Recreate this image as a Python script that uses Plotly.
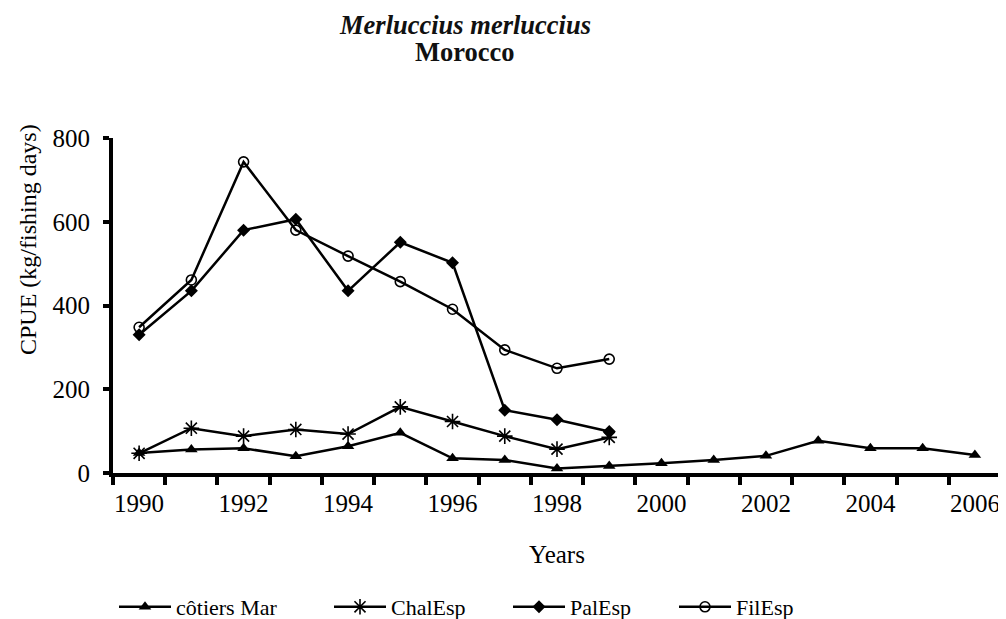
import plotly.graph_objects as go

years = list(range(1990, 2007))
years_esp = list(range(1990, 2000))
cotiers_mar = [48, 56, 59, 40, 64, 96, 35, 31, 11, 17, 23, 31, 41, 77, 59, 59, 43]
chal_esp = [47, 107, 88, 104, 93, 158, 123, 88, 57, 85]
pal_esp = [330, 435, 580, 606, 435, 551, 502, 150, 127, 99]
fil_esp = [348, 461, 743, 580, 518, 457, 391, 294, 250, 272]
x_ticks = list(range(1990, 2007, 2))
y_ticks = [0, 200, 400, 600, 800]

FONT = "Liberation Serif"
OFF = 8  # page body margin
W, H = 1006 - OFF, 619 - OFF
L, T = 113 - OFF, 138 - OFF
R = W - (1001 - OFF)
B = H - (473 - OFF)
PW = W - L - R
PH = H - T - B


def px_x(sx):
    return (sx - OFF - L) / PW


def px_y(sy):
    return (T + PH - (sy - OFF)) / PH


fig = go.Figure()
series = [
    ("côtiers Mar", years, cotiers_mar, dict(symbol="triangle-up", size=11, color="black"), "legend"),
    ("ChalEsp", years_esp, chal_esp, dict(symbol="asterisk-open", size=13, color="black", line=dict(color="black", width=1.6)), "legend2"),
    ("PalEsp", years_esp, pal_esp, dict(symbol="diamond", size=10, color="black"), "legend3"),
    ("FilEsp", years_esp, fil_esp, dict(symbol="circle-open", size=10, color="black", line=dict(color="black", width=1.6)), "legend4"),
]
for name, xs, ys, mk, lg in series:
    fig.add_trace(go.Scatter(x=xs, y=ys, name=name, mode="lines+markers", showlegend=True,
                             line=dict(color="black", width=2.5), marker=mk, legend=lg))

leg_px = [119, 334, 513, 679]  # screen x where legend symbol line starts
def legcfg(px):
    return dict(x=px_x(px - 5), y=px_y(607), xanchor="left", yanchor="middle",
                orientation="h", font=dict(family=FONT, size=22, color="black"),
                bgcolor="rgba(0,0,0,0)", visible=True, itemwidth=52)

fig.update_layout(
    width=W, height=H,
    margin=dict(l=L, r=R, t=T, b=B, autoexpand=False),
    paper_bgcolor="white", plot_bgcolor="white",
    showlegend=True,
    font=dict(family=FONT, size=25, color="black"),
    legend=legcfg(leg_px[0]), legend2=legcfg(leg_px[1]),
    legend3=legcfg(leg_px[2]), legend4=legcfg(leg_px[3]),
    xaxis=dict(range=[1989.5, 2006.5], tickvals=x_ticks, ticktext=[str(v) for v in x_ticks],
               ticks="", showgrid=False, zeroline=False, automargin=False,
               showline=True, linecolor="black", linewidth=4,
               ticklabelstandoff=5,
               minor=dict(tick0=1989.5, dtick=1, ticks="outside", ticklen=8, tickwidth=4, tickcolor="black"),
               title=dict(text="Years", standoff=30, font=dict(family=FONT, size=25)),
               tickfont=dict(family=FONT, size=25)),
    yaxis=dict(range=[0, 800], tickvals=y_ticks, ticks="outside", ticklen=6, tickwidth=4,
               tickcolor="black", showgrid=False, zeroline=False, automargin=False,
               showline=True, linecolor="black", linewidth=4,
               ticklabelstandoff=8,
               tickfont=dict(family=FONT, size=25)),
    annotations=[
        dict(text="<b><i>Merluccius merluccius</i></b>", showarrow=False,
             xref="paper", yref="paper", x=px_x(465), y=px_y(25),
             xanchor="center", yanchor="middle",
             font=dict(family=FONT, size=26.5, color="#111")),
        dict(text="<b>Morocco</b>", showarrow=False,
             xref="paper", yref="paper", x=px_x(465), y=px_y(52),
             xanchor="center", yanchor="middle",
             font=dict(family=FONT, size=26.5, color="#111")),
        dict(text="CPUE (kg/fishing days)", textangle=-90, showarrow=False,
             xref="paper", yref="paper", x=px_x(28), y=px_y(240),
             xanchor="center", yanchor="middle",
             font=dict(family=FONT, size=24, color="black")),
    ],
)

fig.write_html("out.html")
